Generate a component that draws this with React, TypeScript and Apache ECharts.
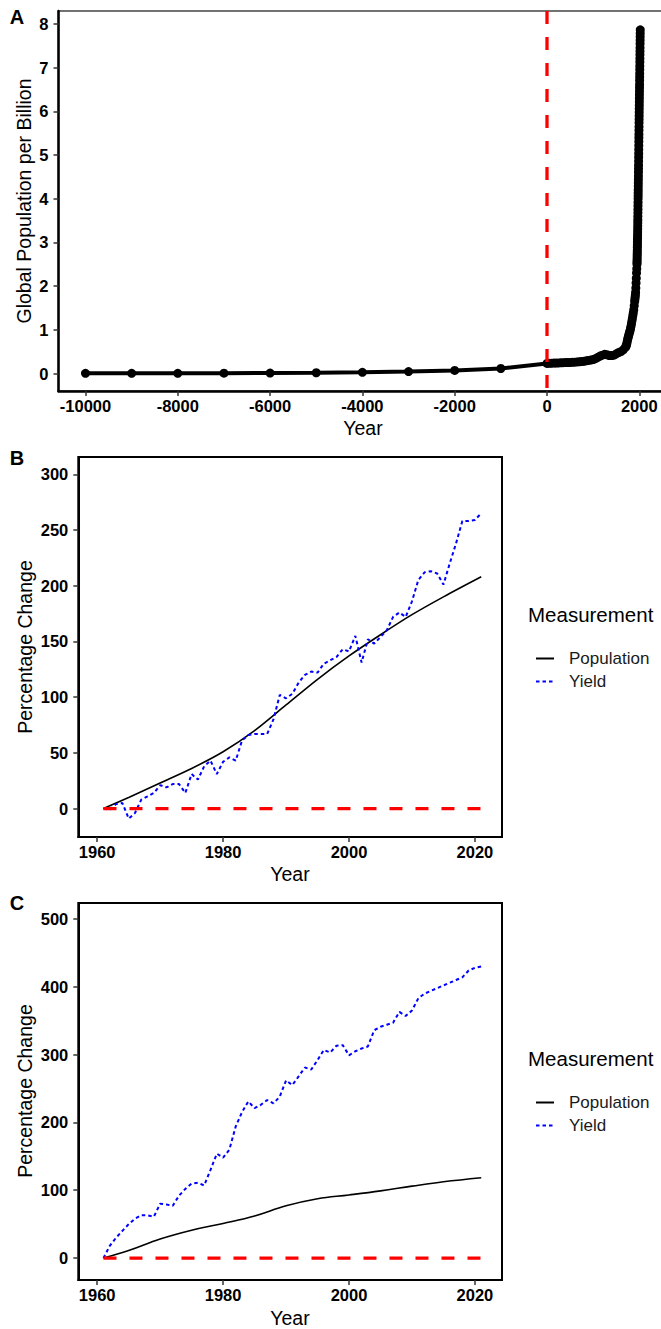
import React, { useEffect, useRef } from "react";
import * as echarts from "echarts";

// ---------- Panel A: global population (billions) ----------
const ancientYears = [-10000, -9000, -8000, -7000, -6000, -5000, -4000, -3000, -2000, -1000];
const ancientPop = [0.004, 0.005, 0.005, 0.007, 0.011, 0.018, 0.028, 0.045, 0.072, 0.115];

const medievalYears = [0, 50, 100, 150, 200, 250, 300, 350, 400, 450, 500, 550, 600, 650, 700, 750, 800, 850, 900, 950, 1000, 1050, 1100, 1150, 1200, 1250, 1300, 1350, 1400, 1450, 1500, 1550, 1600, 1650, 1700];
const medievalPop = [0.232, 0.235, 0.237, 0.24, 0.24, 0.243, 0.245, 0.248, 0.25, 0.252, 0.255, 0.258, 0.26, 0.265, 0.27, 0.275, 0.28, 0.29, 0.3, 0.31, 0.32, 0.34, 0.37, 0.4, 0.42, 0.44, 0.43, 0.41, 0.41, 0.42, 0.45, 0.48, 0.5, 0.54, 0.6];

const earlyModernYears = [1710, 1720, 1730, 1740, 1750, 1760, 1770, 1780, 1790, 1800, 1810, 1820, 1830, 1840, 1850, 1860, 1870, 1880, 1890, 1900, 1905, 1910, 1915, 1920, 1925, 1930, 1935, 1940, 1945];
const earlyModernPop = [0.62, 0.65, 0.69, 0.74, 0.79, 0.83, 0.87, 0.91, 0.95, 0.98, 1.03, 1.08, 1.14, 1.2, 1.26, 1.33, 1.39, 1.46, 1.55, 1.65, 1.7, 1.75, 1.8, 1.86, 1.96, 2.07, 2.18, 2.3, 2.4];

const modernYears = Array.from({ length: 72 }, (_, i) => 1950 + i);
const modernPop = [
  2.5, 2.54, 2.58, 2.63, 2.68, 2.73, 2.78, 2.83, 2.89, 2.94,
  3.0, 3.06, 3.11, 3.17, 3.24, 3.31, 3.38, 3.45, 3.52, 3.6,
  3.68, 3.76, 3.84, 3.92, 4.0, 4.07, 4.14, 4.21, 4.29, 4.36,
  4.44, 4.52, 4.61, 4.69, 4.77, 4.86, 4.95, 5.04, 5.13, 5.22,
  5.31, 5.4, 5.48, 5.57, 5.65, 5.74, 5.82, 5.9, 5.98, 6.06,
  6.14, 6.22, 6.3, 6.38, 6.46, 6.54, 6.62, 6.71, 6.79, 6.87,
  6.96, 7.04, 7.13, 7.21, 7.3, 7.38, 7.46, 7.55, 7.63, 7.71,
  7.79, 7.87,
];

const xTicksA = [-10000, -8000, -6000, -4000, -2000, 0, 2000];
const yTicksA = [0, 1, 2, 3, 4, 5, 6, 7, 8];

// ---------- Panels B & C: percentage change since 1961 ----------
const popYearsB = [1961, 1965, 1970, 1975, 1980, 1985, 1990, 1995, 2000, 2005, 2010, 2015, 2021];
const popChangeB = [0, 10, 23, 36, 51, 70, 93, 116, 137, 156, 174, 190, 208];
const popYearsC = [1961, 1965, 1970, 1975, 1980, 1985, 1990, 1995, 2000, 2005, 2010, 2015, 2021];
const popChangeC = [0, 11, 28, 41, 51, 62, 77, 87.5, 93, 99, 106, 112.5, 118.5];

const yieldYears = Array.from({ length: 61 }, (_, i) => 1961 + i);
const yieldChangeB = [
  0, -1, 4, 5, -9, -4, 8, 11, 14, 21,
  19, 22, 22, 14, 31, 26, 38, 43, 31, 42,
  46, 43, 61, 66, 67, 67, 67, 80, 102, 99,
  103, 113, 120, 123, 122, 130, 133, 136, 143, 141,
  155, 131, 152, 148, 154, 160, 172, 176, 172, 186,
  205, 212, 213, 211, 201, 220, 238, 258, 258, 259,
  265,
];
const yieldChangeC = [
  0, 18, 30, 40, 50, 58, 63, 63, 61, 80,
  79, 77, 92, 102, 110, 111, 107, 130, 154, 148,
  160, 194, 215, 231, 221, 226, 233, 228, 238, 262,
  255, 268, 281, 278, 292, 307, 303, 313, 314, 299,
  305, 309, 312, 336, 341, 344, 347, 363, 357, 365,
  383, 390, 394, 398, 402, 406, 410, 414, 424, 428,
  430,
];

const xTicksBC = [1960, 1980, 2000, 2020];
const yTicksB = [0, 50, 100, 150, 200, 250, 300];
const yTicksC = [0, 100, 200, 300, 400, 500];
const legendNames = ["Population", "Yield"];

const FONT = "'Liberation Sans', Arial, Helvetica, sans-serif";

export default function App() {
  const ref = useRef<HTMLDivElement>(null);

  useEffect(() => {
    document.body.style.margin = "0";
    const chart = echarts.init(ref.current!, null, { renderer: "svg" });

    const pairs = (xs: number[], ys: number[]) => xs.map((x, i) => [x, ys[i]]);
    const dataA = [
      ...pairs(ancientYears, ancientPop),
      ...pairs(medievalYears, medievalPop),
      ...pairs(earlyModernYears, earlyModernPop),
      ...pairs(modernYears, modernPop),
    ];

    const tickLabel = {
      color: "#000",
      fontSize: 16.5,
      fontWeight: "bold" as const,
      fontFamily: FONT,
      formatter: (v: number) => String(v),
    };
    const tick = (vals: number[]) => ({
      show: true,
      customValues: vals,
      length: 5,
      lineStyle: { color: "#333", width: 1.5 },
    });

    const xAxisBase = (grid: number, min: number, max: number, ticks: number[], lineW: number) => ({
      type: "value",
      gridIndex: grid,
      min,
      max,
      axisLine: { show: true, onZero: false, lineStyle: { color: "#000", width: lineW } },
      axisTick: tick(ticks),
      axisLabel: { ...tickLabel, customValues: ticks, margin: 6 },
      splitLine: { show: false },
    });
    const yAxisBase = (grid: number, min: number, max: number, ticks: number[], lineW: number) => ({
      type: "value",
      gridIndex: grid,
      min,
      max,
      axisLine: { show: true, onZero: false, lineStyle: { color: "#000", width: lineW } },
      axisTick: tick(ticks),
      axisLabel: { ...tickLabel, customValues: ticks, margin: 10 },
      splitLine: { show: false },
    });

    const textEl = (text: string, x: number, y: number, size: number, opts: any = {}) => ({
      type: "text",
      x,
      y,
      rotation: opts.rotation || 0,
      silent: true,
      style: {
        text,
        fontSize: size,
        fontFamily: FONT,
        fontWeight: opts.bold ? "bold" : "normal",
        fill: "#000",
        align: opts.align || "center",
        verticalAlign: "middle",
      },
    });

    const legendBase = (top: number) => ({
      data: legendNames,
      orient: "vertical",
      left: 530,
      top,
      itemWidth: 18,
      itemHeight: 14,
      itemGap: 6,
      selectedMode: false,
      itemStyle: { opacity: 0 },
      textStyle: { fontSize: 17, fontFamily: FONT, color: "#1a1a1a", padding: [0, 0, 0, 10] },
    });

    const option: any = {
      animation: false,
      backgroundColor: "#fff",
      grid: [
        { left: 58.5, top: 11, width: 609.5, height: 380, show: true, borderColor: "#444", borderWidth: 1.5, containLabel: false },
        { left: 78.3, top: 457, width: 423.7, height: 380, show: true, borderColor: "#000", borderWidth: 2, containLabel: false },
        { left: 78.3, top: 903, width: 423.7, height: 377, show: true, borderColor: "#000", borderWidth: 2, containLabel: false },
      ],
      xAxis: [
        xAxisBase(0, -10585, 2622, xTicksA, 2.5),
        xAxisBase(1, 1957, 2024.3, xTicksBC, 2),
        xAxisBase(2, 1957, 2024.3, xTicksBC, 2),
      ],
      yAxis: [
        yAxisBase(0, -0.4, 8.3, yTicksA, 2.5),
        yAxisBase(1, -25.5, 315.5, yTicksB, 2),
        yAxisBase(2, -32.4, 523.6, yTicksC, 2),
      ],
      legend: [legendBase(645), legendBase(1089)],
      series: [
        {
          type: "line",
          name: "Global population",
          xAxisIndex: 0,
          yAxisIndex: 0,
          data: dataA,
          symbol: "circle",
          symbolSize: 9,
          showSymbol: true,
          showAllSymbol: true,
          lineStyle: { color: "#000", width: 4 },
          itemStyle: { color: "#000" },
          silent: true,
          z: 2,
        },
        {
          type: "line",
          name: "year0",
          xAxisIndex: 0,
          yAxisIndex: 0,
          data: [[0, 8.3], [0, -0.4]],
          symbol: "none",
          lineStyle: { color: "#FF0000", width: 3.3, type: [13, 13] },
          silent: true,
          z: 3,
        },
        {
          type: "line",
          name: "Population",
          xAxisIndex: 1,
          yAxisIndex: 1,
          data: pairs(popYearsB, popChangeB),
          smooth: 0.3,
          symbol: "none",
          lineStyle: { color: "#000", width: 1.6, type: "solid" },
          itemStyle: { color: "#000" },
          silent: true,
          z: 2,
        },
        {
          type: "line",
          name: "Yield",
          xAxisIndex: 1,
          yAxisIndex: 1,
          data: pairs(yieldYears, yieldChangeB),
          symbol: "none",
          lineStyle: { color: "#0000FF", width: 2, type: [3.5, 3] },
          itemStyle: { color: "#0000FF" },
          silent: true,
          z: 2,
        },
        {
          type: "line",
          name: "zeroB",
          xAxisIndex: 1,
          yAxisIndex: 1,
          data: [[1961, 0], [2022, 0]],
          symbol: "none",
          lineStyle: { color: "#FF0000", width: 3.3, type: [13, 13] },
          silent: true,
          z: 3,
        },
        {
          type: "line",
          name: "Population",
          xAxisIndex: 2,
          yAxisIndex: 2,
          data: pairs(popYearsC, popChangeC),
          smooth: 0.4,
          symbol: "none",
          lineStyle: { color: "#000", width: 1.6, type: "solid" },
          itemStyle: { color: "#000" },
          silent: true,
          z: 2,
        },
        {
          type: "line",
          name: "Yield",
          xAxisIndex: 2,
          yAxisIndex: 2,
          data: pairs(yieldYears, yieldChangeC),
          symbol: "none",
          lineStyle: { color: "#0000FF", width: 2, type: [3.5, 3] },
          itemStyle: { color: "#0000FF" },
          silent: true,
          z: 2,
        },
        {
          type: "line",
          name: "zeroC",
          xAxisIndex: 2,
          yAxisIndex: 2,
          data: [[1961, 0], [2022, 0]],
          symbol: "none",
          lineStyle: { color: "#FF0000", width: 3.3, type: [13, 13] },
          silent: true,
          z: 3,
        },
      ],
      graphic: [
        textEl("A", 17, 17, 20, { bold: true }),
        textEl("B", 17, 458, 20, { bold: true }),
        textEl("C", 17, 903, 20, { bold: true }),
        textEl("Global Population per Billion", 23.5, 201, 19.5, { rotation: Math.PI / 2 }),
        textEl("Percentage Change", 25, 647, 19.5, { rotation: Math.PI / 2 }),
        textEl("Percentage Change", 25, 1091, 19.5, { rotation: Math.PI / 2 }),
        textEl("Year", 363, 428, 19.5),
        textEl("Year", 290, 874, 19.5),
        textEl("Year", 290, 1318, 19.5),
        textEl("Measurement", 528, 614, 20.5, { align: "left" }),
        textEl("Measurement", 528, 1058, 20.5, { align: "left" }),
      ],
    };

    chart.setOption(option);
    return () => chart.dispose();
  }, []);

  return (
    <div style={{ width: 661, height: 1329, overflow: "hidden" }}>
      <div ref={ref} style={{ width: 690, height: 1329 }} />
    </div>
  );
}
